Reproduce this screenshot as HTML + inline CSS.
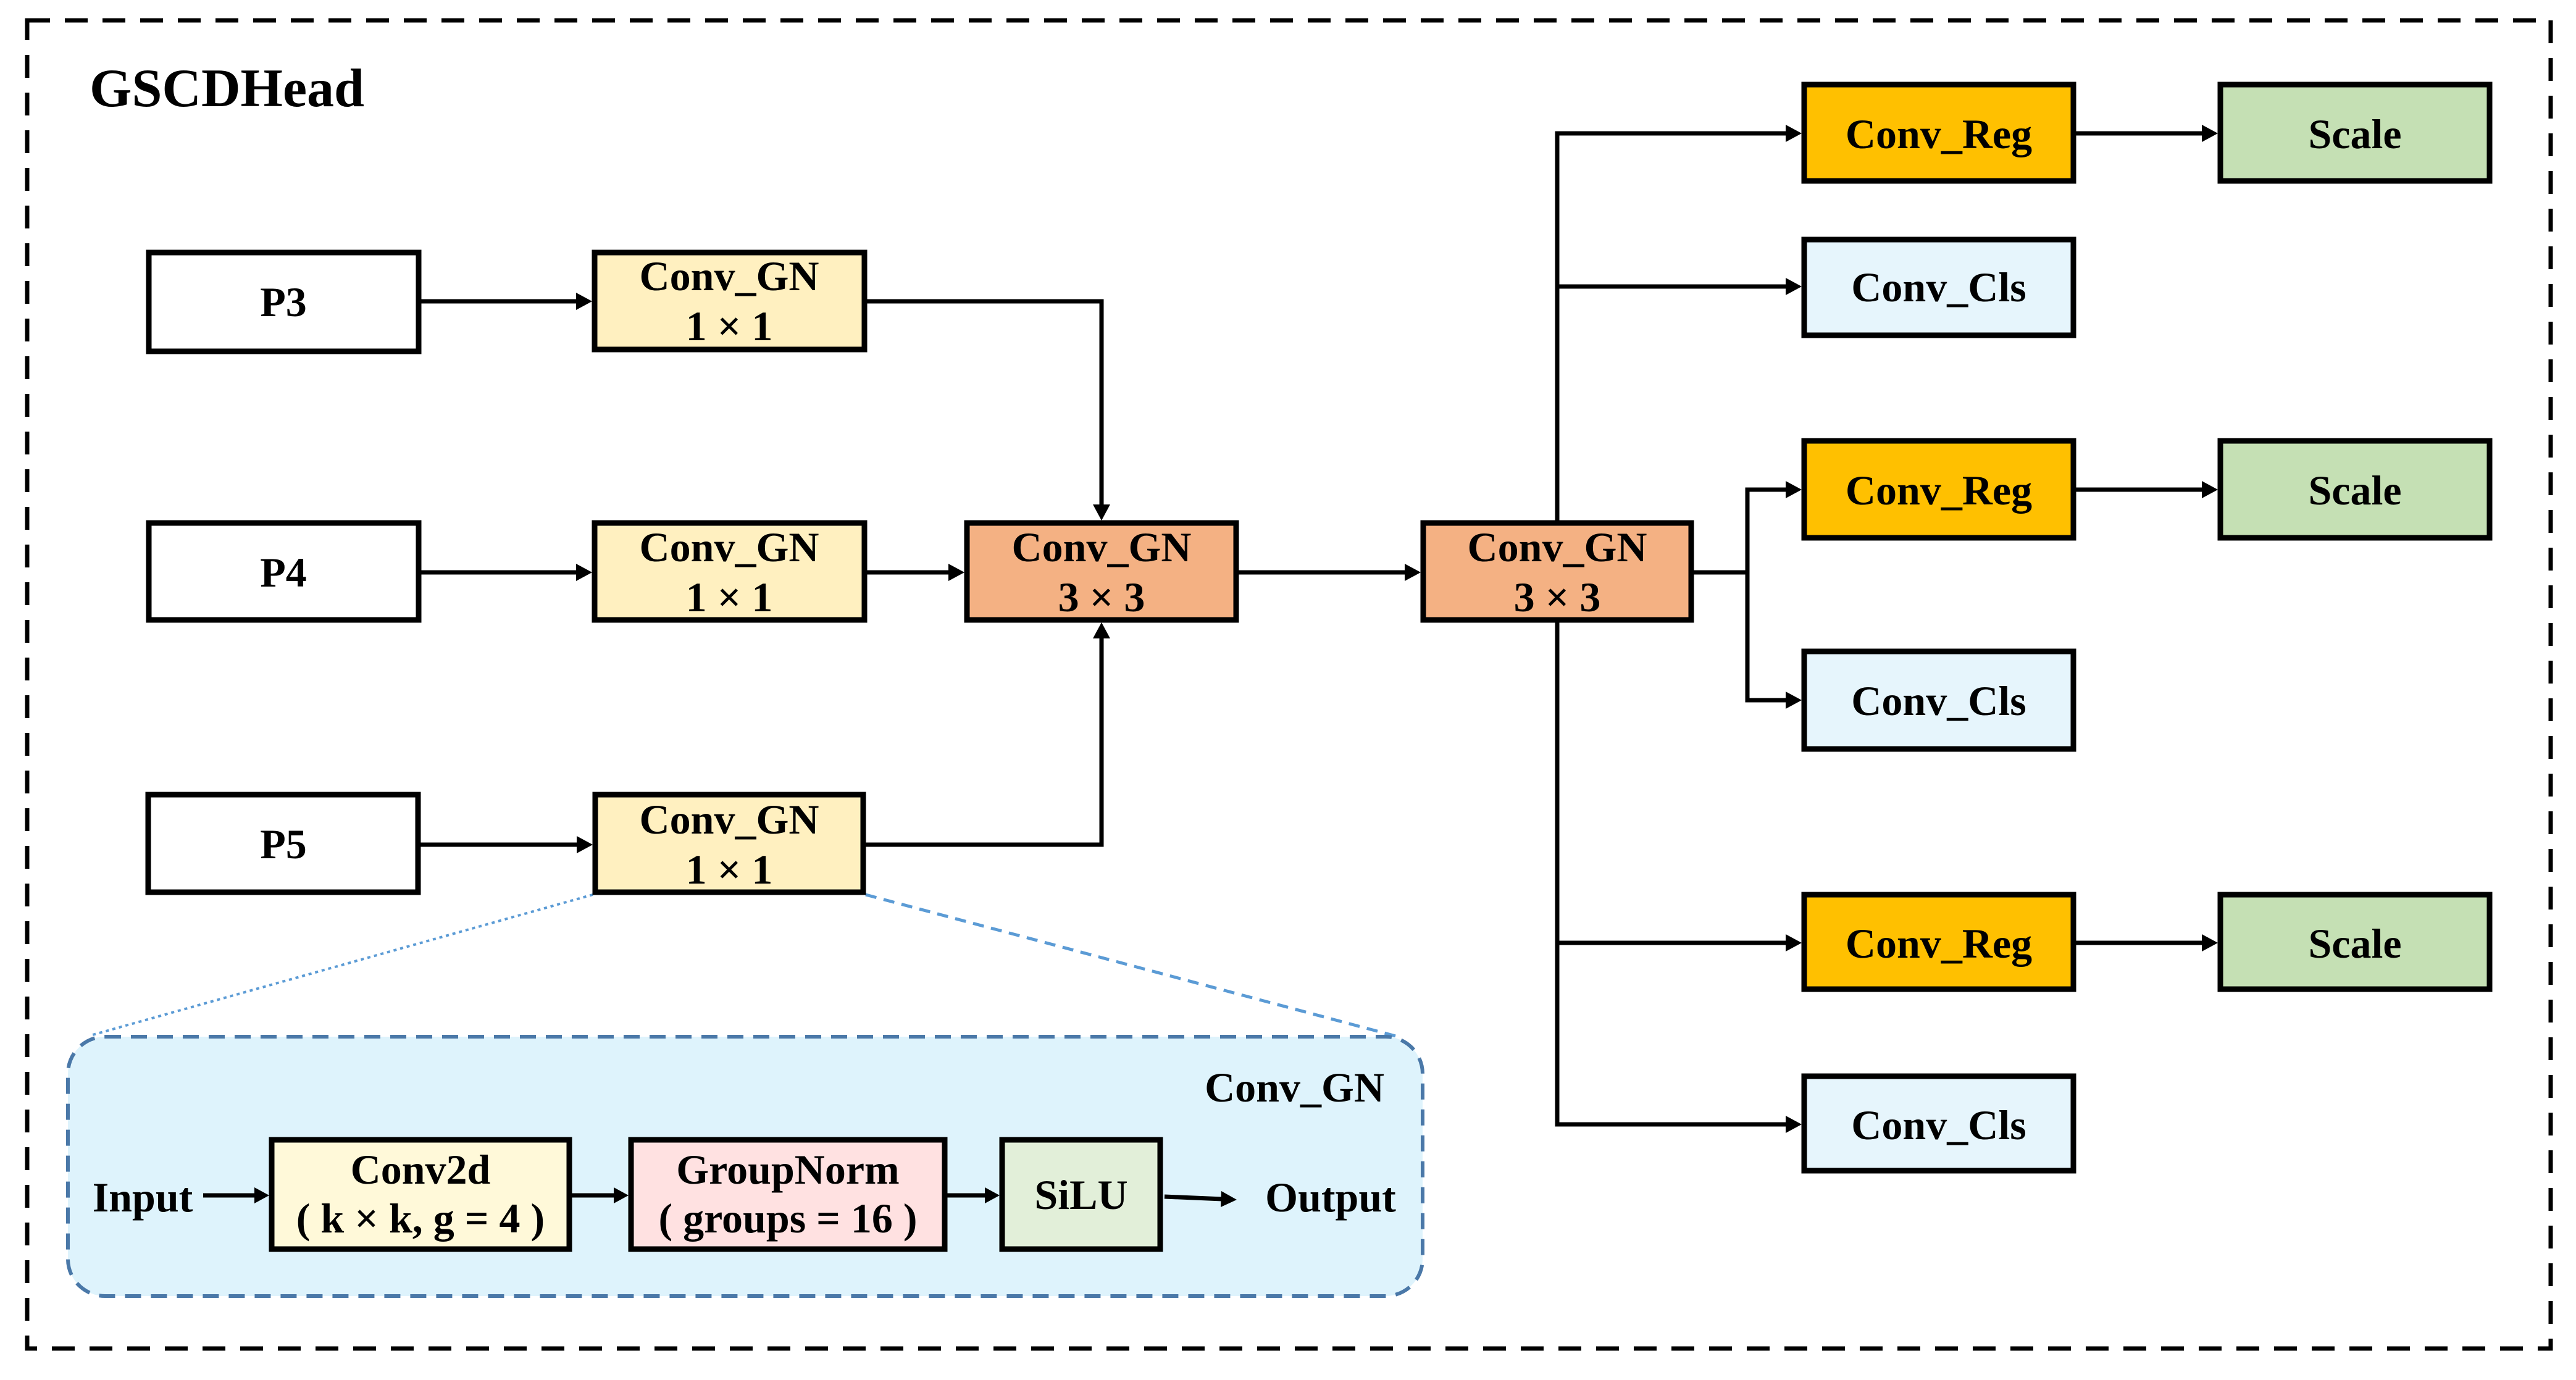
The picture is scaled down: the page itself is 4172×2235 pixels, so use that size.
<!DOCTYPE html>
<html><head><meta charset="utf-8"><style>
html,body{margin:0;padding:0;background:#fff;}
svg{display:block;}
text{font-family:"Liberation Serif","Times New Roman",serif;font-weight:bold;fill:#000;}
</style></head><body>
<svg width="4172" height="2235" viewBox="0 0 4172 2235" xmlns="http://www.w3.org/2000/svg">
<defs>
<marker id="ah" markerWidth="8" markerHeight="8" refX="7" refY="4" orient="auto" markerUnits="userSpaceOnUse" viewBox="0 0 8 8"></marker>
</defs>
<!-- outer dashed border -->
<rect x="44" y="33" width="4087" height="2151" fill="none" stroke="#000" stroke-width="7" stroke-dasharray="37 24"/>
<text x="145" y="172" font-size="88">GSCDHead</text>

<!-- inset connection lines -->
<line x1="960" y1="1449" x2="150" y2="1676" stroke="#5b9bd5" stroke-width="4" stroke-dasharray="5 6"/>
<line x1="1402" y1="1449" x2="2268" y2="1680" stroke="#5b9bd5" stroke-width="5" stroke-dasharray="18 12"/>
<!-- inset -->
<rect x="110" y="1679" width="2194" height="420" rx="60" ry="60" fill="#def3fc" stroke="#4a78a8" stroke-width="6" stroke-dasharray="26 16"/>
<text x="2242" y="1784" font-size="68" text-anchor="end">Conv_GN</text>

<g stroke="#000" stroke-width="7" fill="none">
<!-- P rows -->
<line x1="682" y1="488" x2="935" y2="488"/>
<line x1="682" y1="927" x2="935" y2="927"/>
<line x1="681" y1="1368" x2="936" y2="1368"/>
<polyline points="1404,488 1784,488 1784,820"/>
<line x1="1404" y1="927" x2="1538" y2="927"/>
<polyline points="1402,1368 1784,1368 1784,1032"/>
<line x1="2006" y1="927" x2="2277" y2="927"/>
<!-- trunk -->
<polyline points="2894,216 2522,216 2522,1821 2894,1821"/>
<line x1="2522" y1="464" x2="2894" y2="464"/>
<line x1="2522" y1="1527" x2="2894" y2="1527"/>
<polyline points="2743,927 2830,927"/>
<polyline points="2894,793 2830,793 2830,1134 2894,1134"/>
<line x1="3362" y1="216" x2="3568" y2="216"/>
<line x1="3362" y1="793" x2="3568" y2="793"/>
<line x1="3362" y1="1527" x2="3568" y2="1527"/>
<!-- inset arrows -->
<line x1="329" y1="1936" x2="414" y2="1936"/>
<line x1="926" y1="1936" x2="996" y2="1936"/>
<line x1="1534" y1="1936" x2="1597" y2="1936"/>
<line x1="1886" y1="1938" x2="1980" y2="1942"/>
</g>
<g fill="#000">
<polygon points="959,488 933,474 933,502"/>
<polygon points="959,927 933,913 933,941"/>
<polygon points="960,1368 934,1354 934,1382"/>
<polygon points="1784,843 1770,817 1798,817"/>
<polygon points="1562,927 1536,913 1536,941"/>
<polygon points="1784,1008 1770,1034 1798,1034"/>
<polygon points="2301,927 2275,913 2275,941"/>
<polygon points="2918,216 2892,202 2892,230"/>
<polygon points="2918,464 2892,450 2892,478"/>
<polygon points="2918,793 2892,779 2892,807"/>
<polygon points="2918,1134 2892,1120 2892,1148"/>
<polygon points="2918,1527 2892,1513 2892,1541"/>
<polygon points="2918,1821 2892,1807 2892,1835"/>
<polygon points="3592,216 3566,202 3566,230"/>
<polygon points="3592,793 3566,779 3566,807"/>
<polygon points="3592,1527 3566,1513 3566,1541"/>
<polygon points="436,1936 412,1923 412,1949"/>
<polygon points="1018,1936 994,1923 994,1949"/>
<polygon points="1619,1936 1595,1923 1595,1949"/>
<polygon points="2003,1943 1978,1929 1977,1955"/>
</g>

<g stroke="#000" stroke-width="9">
<rect x="241" y="409" width="437" height="160" fill="#fff"/>
<rect x="241" y="847" width="437" height="157" fill="#fff"/>
<rect x="240" y="1287" width="437" height="158" fill="#fff"/>
<rect x="963" y="409" width="437" height="157" fill="#fff0c0"/>
<rect x="963" y="847" width="437" height="157" fill="#fff0c0"/>
<rect x="964" y="1287" width="434" height="158" fill="#fff0c0"/>
<rect x="1566" y="847" width="436" height="157" fill="#f4b183"/>
<rect x="2305" y="847" width="434" height="157" fill="#f4b183"/>
<rect x="2922" y="137" width="436" height="156" fill="#ffc000"/>
<rect x="3596" y="137" width="436" height="156" fill="#c5e0b4"/>
<rect x="2922" y="388" width="436" height="155" fill="#e6f5fc"/>
<rect x="2922" y="714" width="436" height="157" fill="#ffc000"/>
<rect x="3596" y="714" width="436" height="157" fill="#c5e0b4"/>
<rect x="2922" y="1055" width="436" height="158" fill="#e6f5fc"/>
<rect x="2922" y="1449" width="436" height="153" fill="#ffc000"/>
<rect x="3596" y="1449" width="436" height="153" fill="#c5e0b4"/>
<rect x="2922" y="1743" width="436" height="153" fill="#e6f5fc"/>
<rect x="440" y="1846" width="482" height="177" fill="#fff9d9"/>
<rect x="1022" y="1846" width="508" height="177" fill="#ffe1e1"/>
<rect x="1623" y="1846" width="256" height="177" fill="#e2efd9"/>
</g>

<g font-size="68" text-anchor="middle">
<text x="459" y="512">P3</text>
<text x="459" y="950">P4</text>
<text x="459" y="1390">P5</text>
<text x="1181" y="470">Conv_GN</text><text x="1181" y="551">1 × 1</text>
<text x="1181" y="909">Conv_GN</text><text x="1181" y="990">1 × 1</text>
<text x="1181" y="1350">Conv_GN</text><text x="1181" y="1431">1 × 1</text>
<text x="1784" y="909">Conv_GN</text><text x="1784" y="990">3 × 3</text>
<text x="2522" y="909">Conv_GN</text><text x="2522" y="990">3 × 3</text>
<text x="3140" y="240">Conv_Reg</text>
<text x="3140" y="488">Conv_Cls</text>
<text x="3140" y="817">Conv_Reg</text>
<text x="3140" y="1158">Conv_Cls</text>
<text x="3140" y="1551">Conv_Reg</text>
<text x="3140" y="1845">Conv_Cls</text>
<text x="3814" y="240">Scale</text>
<text x="3814" y="817">Scale</text>
<text x="3814" y="1551">Scale</text>
<text x="681" y="1917">Conv2d</text><text x="681" y="1996">( k × k, g = 4 )</text>
<text x="1276" y="1917">GroupNorm</text><text x="1276" y="1996">( groups = 16 )</text>
<text x="1751" y="1958">SiLU</text>
<text x="231" y="1962">Input</text>
<text x="2155" y="1962">Output</text>
</g>
</svg>
</body></html>
